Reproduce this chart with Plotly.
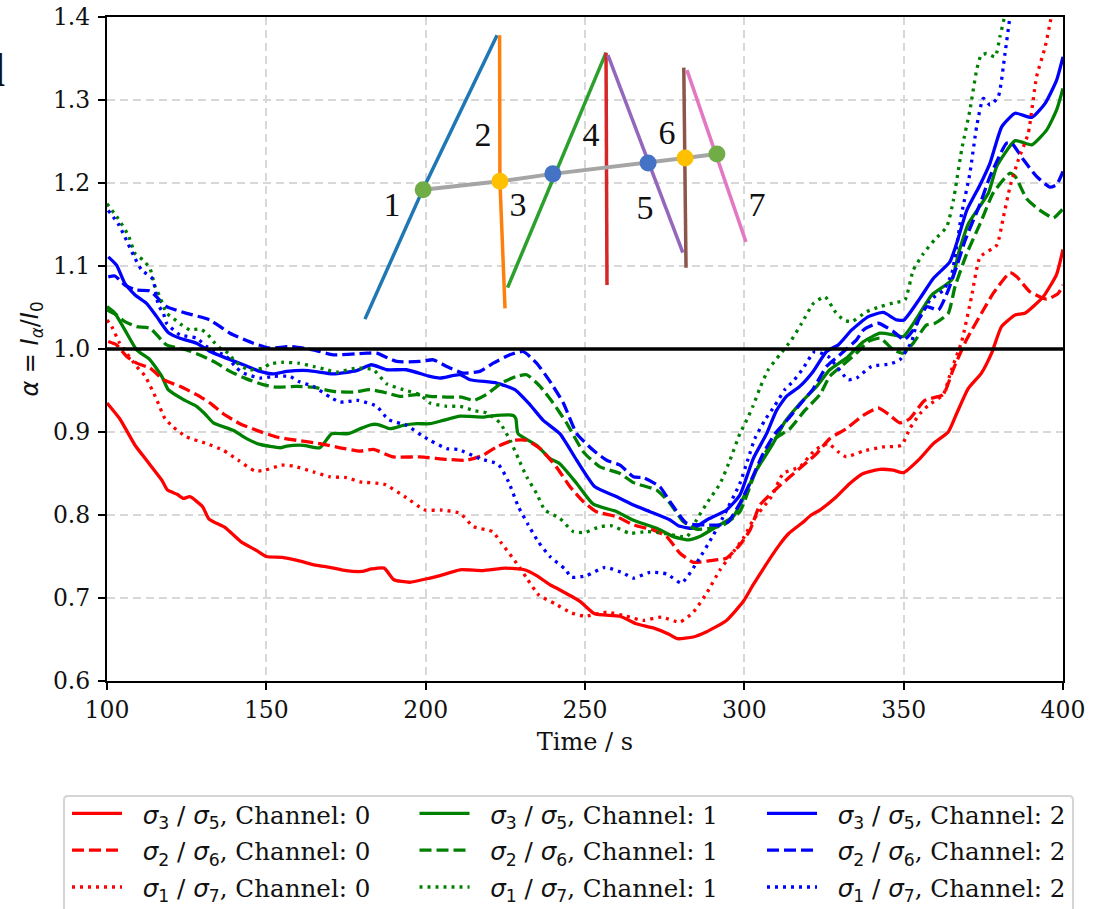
import plotly.graph_objects as go

# (time, ratio)
r_s_x = [100,104,108.8,112.4,117.2,119,122,124,126,130,132,137,142,147,150,155,160,165,170,175,180,183,187,190,195,201.35,204.5,210.8,218,225,231,234.8,239,242,248.4,253,261,266,271.4,276,279,284,288,294.4,299.7,302.8,311,314,318,321,323.7,328.9,333.1,337.3,342.5,346.7,349.9,355.1,359.3,364,366.6,370.2,374.4,377.6,380.7,385,388,393.8,398,400]
r_s_y = [.935,.916,.884,.866,.842,.83,.825,.82,.822,.81,.795,.785,.768,.757,.75,.749,.745,.74,.737,.733,.732,.735,.736,.722,.719,.724,.727,.734,.733,.736,.734,.727,.716,.71,.696,.681,.678,.669,.664,.657,.651,.653,.659,.673,.696,.716,.764,.778,.79,.80,.806,.822,.838,.85,.855,.854,.851,.868,.886,.90,.922,.952,.971,.995,1.027,1.041,1.043,1.063,1.09,1.12]

r_d_x = [100.4,103,106.2,109.3,113.5,117.7,122.9,128.1,132.3,136.5,141.7,147,153.2,159.5,166.8,173.1,179.4,183.6,189.8,198.2,206.6,212.9,218,222.3,227.5,231.7,235.9,241,245.3,249.5,253.6,260,265.2,271.4,275.6,279.8,284,289.2,294.4,298.6,301.8,304.9,309.6,314.3,318.5,322.7,326.8,332,337.3,342,345.7,348.8,351.9,356.6,362.4,365.5,369.7,375,378.1,383.4,385.5,389.6,394.9,398.5,400]
r_d_y = [1.009,1.005,.991,.983,.977,.963,.955,.945,.935,.922,.91,.902,.894,.89,.886,.881,.877,.879,.87,.87,.867,.866,.872,.882,.89,.89,.88,.858,.834,.816,.804,.798,.788,.782,.774,.754,.743,.745,.748,.764,.782,.812,.83,.846,.86,.874,.892,.904,.92,.929,.92,.911,.916,.938,.945,.975,1.011,1.047,1.067,1.092,1.087,1.069,1.06,1.067,1.077]

r_o_x = [100,101.5,104,109.3,112,115.6,118.2,120.8,125,131.3,136.5,141.2,146.4,149.6,154.8,158.5,164.7,170,175.2,179.4,187,193.5,199.8,205,210.8,215,221,223.8,228.5,231.7,235.4,240.6,245.8,250,256.8,263,268.3,274,279.8,284,288.2,292.4,295.5,300,302.8,308.5,312.2,317.4,322.1,326.3,329.5,332,337.3,343.6,349.3,351.9,355.1,357.7,362.4,365,368.2,371.3,374,379.2,381.3,383.4,386,389.1,391.7,394.4,396.1,397]
r_o_y = [1.035,1.027,1.007,.979,.967,.939,.916,.906,.894,.886,.878,.866,.853,.854,.86,.859,.852,.846,.845,.84,.837,.822,.806,.806,.802,.786,.78,.766,.742,.724,.704,.693,.682,.678,.683,.678,.673,.677,.671,.683,.706,.734,.75,.774,.794,.822,.85,.858,.878,.886,.876,.87,.877,.882,.884,.904,.922,.932,.945,.975,1.009,1.063,1.111,1.125,1.159,1.196,1.228,1.26,1.328,1.364,1.396,1.416]

g_s_x = [100,102.5,105.6,109.3,113.5,117.2,119.2,124,128.1,130.7,133.4,139.6,143.8,148,154.3,156.4,161.6,166.8,170.5,175.7,179.4,183,185.1,188.8,193,197.2,201.35,205.5,210.8,218,222.3,227.5,228.3,229,234.8,239,242,247.4,252.6,260,265,272.5,277.7,282.4,286,291.3,296.5,298.6,303.8,309,312.7,317.4,322.7,326.8,332,337.4,342.6,346.8,349.9,354.1,358.8,365,367.2,370.3,376.6,379.2,385,390.2,394.9,398,400]
g_s_y = [1.051,1.043,1.023,.999,.987,.967,.951,.939,.931,.922,.911,.902,.892,.885,.881,.883,.884,.881,.898,.898,.904,.909,.909,.904,.908,.91,.91,.914,.919,.918,.92,.92,.916,.898,.884,.868,.862,.838,.813,.804,.794,.784,.774,.77,.774,.786,.798,.812,.854,.886,.912,.934,.955,.975,.989,1.009,1.019,1.017,1.015,1.037,1.065,1.083,1.115,1.151,1.188,1.22,1.251,1.246,1.264,1.288,1.314]

g_d_x = [100,103,105.6,109.3,113.5,118.7,125,130.2,134.4,138.6,143.8,149,153.2,159.5,164.7,171,177.3,182.5,187.8,191.9,197.2,201.35,206.6,211.3,215,219,223.8,228.5,231.7,235.9,240,244.2,249.5,254.7,261,265.2,272.5,276.7,280.8,285,289.2,293.4,298.6,303.3,309,314.3,319,323.7,326.8,331,335.2,338.9,342.6,346.8,349.9,353,357.2,359.8,364,366.1,369.8,374,378.1,383.4,385,388.6,392.8,397,400]
g_d_y = [1.047,1.041,1.033,1.027,1.025,1.005,.999,.991,.983,.973,.964,.957,.954,.955,.954,.949,.948,.951,.947,.943,.945,.943,.942,.942,.938,.945,.959,.967,.969,.955,.935,.911,.876,.858,.85,.839,.83,.814,.792,.783,.784,.788,.804,.85,.89,.904,.926,.945,.967,.981,.995,1.009,1.013,.999,.995,1.007,1.029,1.031,1.043,1.075,1.115,1.151,1.188,1.212,1.208,1.181,1.167,1.158,1.169]

g_o_x = [100,103.5,106.7,108.8,111.4,113.5,115.1,116.6,118.7,120.8,123.4,126,129.2,131.3,133.4,135.5,138.1,140.2,144.3,149,151.1,154.8,160,164.7,169,172,178.3,183.6,187.8,193,198.2,201.35,206.6,210.8,215,219.1,223.3,226.5,229.1,231.7,234.8,237.4,242.1,246.3,250,254.7,258.4,264.1,269.3,274.6,282,285,288.2,292.4,295.5,298.6,300.2,302.8,304.9,307.5,311.1,314.8,318,321.7,325.3,328.5,331.1,333.7,338.4,342.6,347.3,350.4,353,356.2,359.8,363.5,365.6,368.2,370.8,372.9,374.3,376,378.7,380.2,381.5,382.3]
g_o_y = [1.175,1.157,1.137,1.115,1.107,1.097,1.075,1.063,1.043,1.037,1.029,1.023,1.024,1.019,1.009,1.001,.995,.985,.975,.977,.982,.984,.983,.979,.975,.972,.977,.975,.958,.951,.945,.935,.931,.931,.926,.923,.911,.89,.868,.846,.826,.806,.796,.78,.779,.786,.787,.778,.78,.778,.774,.794,.814,.838,.866,.898,.91,.932,.953,.975,.993,1.011,1.031,1.055,1.063,1.045,1.035,1.033,1.045,1.051,1.056,1.059,1.095,1.115,1.132,1.147,1.179,1.24,1.288,1.336,1.354,1.356,1.352,1.376,1.398,1.416]

b_s_x = [100.4,103,105.6,108.8,112.4,115.6,119.2,122.9,128.1,132.3,138.1,142.8,148,152.2,156.4,163.2,171,178.3,183,187.8,194,201.35,204.5,210.8,213.9,222.3,228,232.7,236.9,242.1,247.4,253.1,260,265.2,270.4,276.7,279.3,284,288.2,294.4,298.6,302.8,307,310.1,313.2,317.4,321.6,325.8,329.5,333.7,338.9,343.6,347.8,350.1,355.1,359.3,364.5,366.6,369.8,374,377.1,380.8,385,390.2,394.4,398,400]
b_s_y = [1.111,1.101,1.079,1.065,1.055,1.039,1.02,1.013,1.007,.997,.988,.981,.973,.97,.973,.974,.97,.974,.981,.975,.975,.967,.965,.969,.963,.959,.951,.933,.914,.898,.866,.834,.822,.812,.804,.794,.787,.784,.794,.806,.824,.868,.898,.926,.943,.955,.973,.997,1.005,1.023,1.039,1.044,1.035,1.035,1.061,1.085,1.105,1.127,1.167,1.198,1.224,1.268,1.284,1.279,1.296,1.324,1.352]

b_d_x = [100.4,102.5,105.6,109.3,113.5,118.7,125,132.3,138.6,145.9,151.1,157.4,164.7,171,181.5,184.6,190.9,198.2,202.4,206.6,211.8,217,221.2,226.4,230.6,234.8,239,243.2,247.4,252.6,256.8,261,265.2,268.3,273.5,276.7,281.9,288.2,292.4,295,298.6,301.7,305.9,309.6,313.8,318.5,321.6,325.8,330,335.2,337.4,342,346.8,350.1,353,357.2,360.9,364,366.6,369.3,374,377.1,382.3,383.9,387.6,391.7,395.9,398,400]
b_d_y = [1.087,1.088,1.077,1.071,1.07,1.051,1.043,1.035,1.019,1.007,1.001,1.003,.999,.993,.995,.995,.985,.985,.987,.979,.971,.973,.983,.993,.997,.983,.961,.935,.898,.878,.866,.86,.846,.845,.834,.816,.79,.788,.788,.792,.814,.838,.874,.898,.916,.938,.952,.979,.993,1.011,1.023,1.031,1.021,1.011,1.023,1.051,1.047,1.071,1.099,1.131,1.175,1.208,1.248,1.248,1.228,1.208,1.195,1.198,1.214]

b_o_x = [100.4,103.5,105.6,108.3,110.9,114,115,116.1,117.7,118.7,122.9,128.1,131.3,137.5,140.7,142.8,148,152.2,157.4,160,164.7,170,173.1,178.9,184.6,188.3,194,198.7,201.35,206.6,210.2,217,222.8,226,229.1,232.2,235.3,239,243.7,245.8,250.5,256.3,262,265.2,270.4,275.6,280.3,285,290.3,293.4,298.6,301.2,303.3,306.4,309.6,312.7,315.3,318.5,322.1,326.3,332.6,335.2,339.9,345.7,348.8,352.5,354,358.3,362.5,365.1,368.2,370.8,372.9,375,377.1,379.7,381.8,383.2,383.9]
b_o_y = [1.167,1.151,1.135,1.113,1.095,1.086,1.075,1.053,1.043,1.031,1.017,1.013,1.003,.991,.977,.971,.965,.967,.967,.961,.955,.942,.936,.938,.931,.915,.908,.896,.89,.88,.879,.868,.861,.84,.81,.788,.768,.75,.735,.725,.727,.737,.73,.724,.731,.729,.718,.742,.776,.798,.838,.868,.892,.914,.932,.951,.961,.977,.997,.991,.963,.965,.979,.982,.987,1.009,1.029,1.059,1.071,1.091,1.163,1.212,1.268,1.302,1.294,1.304,1.356,1.396,1.416]

NB = "\u00a0"
SANS_SPAN = '<span style="font-family:DejaVu Sans">'
legend_math = [
    "<i>σ</i><sub>3</sub> / <i>σ</i><sub>5</sub>",
    "<i>σ</i><sub>2</sub> / <i>σ</i><sub>6</sub>",
    "<i>σ</i><sub>1</sub> / <i>σ</i><sub>7</sub>",
]
channels = ["0", "1", "2"]
colors = ["#ff0000", "#008000", "#0000ff"]
dashes = ["solid", "12px,5px", "3px,5px"]

curves = [[(r_s_x, r_s_y), (g_s_x, g_s_y), (b_s_x, b_s_y)],
          [(r_d_x, r_d_y), (g_d_x, g_d_y), (b_d_x, b_d_y)],
          [(r_o_x, r_o_y), (g_o_x, g_o_y), (b_o_x, b_o_y)]]

# inset schematic, in the chart's own units
inset_x = [[180.95,199.1,222.4],[223.2,223.3,224.9],[225.7,256.6],[256.6,256.9],[257.2,280.7],[281,281.7],[282,300.5]]
inset_y = [[1.036,1.192,1.378],[1.378,1.202,1.049],[1.074,1.357],[1.357,1.077],[1.354,1.116],[1.339,1.098],[1.336,1.129]]
inset_colors = ["#1f77b4","#ff7f0e","#2ca02c","#d62728","#9467bd","#8c564b","#e377c2"]
dot_x = [199.2,223.3,239.9,269.8,281.4,291.4]
dot_y = [1.192,1.202,1.211,1.224,1.230,1.235]
dot_colors = ["#70ad47","#ffc000","#4472c4","#4472c4","#ffc000","#70ad47"]
num_x = [189.4,218,229,251.9,268.8,275.7,304]
num_y = [1.17,1.255,1.17,1.255,1.167,1.257,1.17]
num_text = ["1","2","3","4","5","6","7"]

SERIF = "DejaVu Serif"
fig = go.Figure()

for r, row in enumerate(curves):
    for c, (xs, ys) in enumerate(row):
        label = ('<span style="font-size:24.6px">' + NB*2 + SANS_SPAN + legend_math[r] + "</span>, Channel: "
                 + channels[c] + "</span>")
        fig.add_trace(go.Scatter(x=xs, y=ys, mode="lines", name=label,
                                 line=dict(color=colors[c], width=3.3, dash=dashes[r], shape="spline", smoothing=0.5)))

fig.add_trace(go.Scatter(x=[100, 400], y=[1, 1], mode="lines", showlegend=False,
                         line=dict(color="black", width=3.5)))

for xs, ys, col in zip(inset_x, inset_y, inset_colors):
    fig.add_trace(go.Scatter(x=xs, y=ys, mode="lines", showlegend=False, line=dict(color=col, width=3.5)))
fig.add_trace(go.Scatter(x=dot_x, y=dot_y, mode="lines", showlegend=False, line=dict(color="#a5a5a5", width=4)))
fig.add_trace(go.Scatter(x=dot_x, y=dot_y, mode="markers", showlegend=False,
                         marker=dict(color=dot_colors, size=17, line=dict(width=0))))
fig.add_trace(go.Scatter(x=num_x, y=num_y, mode="text", text=num_text, showlegend=False,
                         textfont=dict(family="Liberation Serif", size=34, color="#111")))

axis = dict(showline=True, linecolor="black", linewidth=2, mirror=True, ticks="outside", ticklen=7,
            tickwidth=1.6, tickcolor="black", showgrid=True, gridcolor="#d8d8d8", gridwidth=2,
            griddash="8px,5px", zeroline=False, tickfont=dict(family=SERIF, size=23.5, color="#111"))
fig.update_xaxes(axis, range=[100, 400], tickvals=[100,150,200,250,300,350,400],
                 title=dict(text="Time / s", font=dict(family=SERIF, size=24, color="#111"), standoff=10))
fig.update_yaxes(axis, range=[0.6, 1.4], tickvals=[.6,.7,.8,.9,1.0,1.1,1.2,1.3,1.4], tickformat=".1f",
                 ticklabelstandoff=3,
                 title=dict(text="<i>α</i> = <i>I<sub>α</sub></i>/<i>I</i><sub>0</sub>",
                            font=dict(family="DejaVu Sans", size=24, color="#111"), standoff=8))

W, H = 1109, 909
L, R, T, B = 107, 46, 17, 228
PW, PH = W - L - R, H - T - B


def px(v):
    return (v - L) / PW


def py(v):
    return (H - B - v) / PH


# legend frame, clipped by the page bottom as in the reference
fx0, fx1, fy0, fy1, rad = px(64), px(1073), py(796), py(960), 4 / PW
rady = 4 / PH
frame = (f"M {fx0 + rad} {fy0} L {fx1 - rad} {fy0} Q {fx1} {fy0} {fx1} {fy0 - rady} L {fx1} {fy1} "
         f"L {fx0} {fy1} L {fx0} {fy0 - rady} Q {fx0} {fy0} {fx0 + rad} {fy0} Z")

fig.update_layout(
    width=W, height=H, margin=dict(l=L, r=R, t=T, b=B, pad=0, autoexpand=False),
    plot_bgcolor="white", paper_bgcolor="white", font=dict(family=SERIF, color="#111"),
    legend=dict(orientation="h", x=px(67), xanchor="left",
                y=py(790), yanchor="top", entrywidth=282.5, entrywidthmode="pixels",
                itemwidth=50, font=dict(family=SERIF, size=26, color="#111"),
                borderwidth=0, bgcolor="rgba(0,0,0,0)", traceorder="normal"),
    shapes=[dict(type="path", path=frame, xref="paper", yref="paper", layer="below",
                 line=dict(color="#d5d5d5", width=2), fillcolor="white")],
    annotations=[dict(text="d", xref="paper", yref="paper", x=px(7), xanchor="right",
                      y=py(98), yanchor="bottom", showarrow=False,
                      font=dict(family="Liberation Serif", size=46, color="#111"))],
)
fig.write_html("out.html", config=dict(displayModeBar=False), post_script="document.body.style.margin='0';")
